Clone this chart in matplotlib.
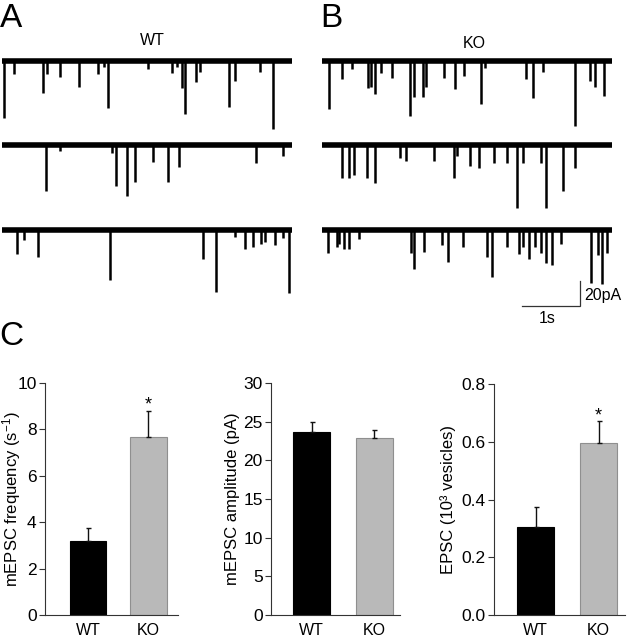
import matplotlib
matplotlib.use("Agg")
import matplotlib.pyplot as plt
import numpy as np

plt.rcParams['font.family'] = ['Liberation Sans', 'DejaVu Sans']
plt.rcParams['mathtext.fontset'] = 'custom'
plt.rcParams['mathtext.rm'] = 'Liberation Sans'
plt.rcParams['mathtext.it'] = 'Liberation Sans:italic'

# ---------------- trace data: event times (s) and amplitudes (pA) ----------------
trace_dur = 5.0
wt1_t = [0.03, 0.21, 0.71, 0.77, 1.00, 1.32, 1.65, 1.75, 1.83, 2.51, 2.93, 3.01, 3.10, 3.16, 3.34, 3.41, 3.91, 4.02, 4.45, 4.67]
wt1_a = [46, 11, 26, 11, 13, 21, 11, 5, 38, 7, 10, 5, 22, 43, 17, 9, 37, 16, 9, 55]
wt2_t = [0.76, 1.00, 1.89, 1.96, 2.15, 2.29, 2.60, 2.86, 3.06, 4.38, 4.85]
wt2_a = [37, 5, 7, 33, 41, 30, 14, 30, 18, 15, 9]
wt3_t = [0.26, 0.38, 0.62, 1.86, 3.47, 3.69, 4.02, 4.19, 4.32, 4.46, 4.53, 4.71, 4.85, 4.94]
wt3_a = [19, 8, 21, 40, 23, 49, 5, 15, 13, 11, 9, 12, 6, 50]

ko1_t = [0.12, 0.34, 0.51, 0.79, 0.85, 0.92, 1.01, 1.20, 1.51, 1.59, 1.74, 1.80, 2.10, 2.29, 2.44, 2.74, 2.81, 3.51, 3.63, 3.81, 4.36, 4.62, 4.71, 4.87]
ko1_a = [39, 15, 7, 22, 21, 27, 10, 14, 44, 29, 29, 21, 14, 23, 12, 35, 6, 15, 30, 9, 52, 16, 21, 28]
ko2_t = [0.34, 0.46, 0.56, 0.78, 0.91, 1.34, 1.44, 1.93, 2.28, 2.33, 2.55, 2.70, 2.97, 3.19, 3.36, 3.47, 3.78, 3.86, 4.16, 4.36]
ko2_a = [27, 27, 24, 27, 31, 11, 13, 13, 27, 9, 17, 19, 15, 15, 51, 15, 15, 51, 37, 19]
ko3_t = [0.10, 0.25, 0.30, 0.38, 0.46, 0.63, 1.53, 1.59, 1.76, 2.07, 2.17, 2.43, 2.85, 2.93, 3.19, 3.40, 3.47, 3.57, 3.68, 3.77, 3.87, 3.97, 4.12, 4.64, 4.75, 4.82, 4.92]
ko3_a = [18, 13, 11, 15, 15, 7, 18, 31, 17, 12, 25, 13, 21, 37, 13, 19, 13, 23, 13, 18, 26, 28, 11, 42, 20, 43, 18]

# ---------------- bar data ----------------
groups = ['WT', 'KO']
bar_colors = ['#000000', '#b9b9b9']
bar_edges = ['#000000', '#8f8f8f']
freq_mean = [3.17, 7.67]
freq_err = [0.57, 1.14]
amp_mean = [23.68, 22.94]
amp_err = [1.29, 1.04]
epsc_mean = [0.305, 0.594]
epsc_err = [0.069, 0.078]
freq_sig = [False, True]
amp_sig = [False, False]
epsc_sig = [False, True]

W, H = 636, 640
fig = plt.figure(figsize=(W / 100, H / 100), dpi=100)


def px_axes(l, t, w, h):
    return fig.add_axes([l / W, 1 - (t + h) / H, w / W, h / H])


PX_PER_S = 58.0
PA_PER_PX = 0.8
TOP_PX = 50
AX_H = 280
AX_W = 300
row_base_px = [60.5, 144.5, 230.3]
ytop = (row_base_px[0] - TOP_PX) * PA_PER_PX
offsets = [-(b - row_base_px[0]) * PA_PER_PX for b in row_base_px]


def trace_axes(left):
    ax = px_axes(left, TOP_PX, AX_W, AX_H)
    ax.set_xlim(0, AX_W / PX_PER_S)
    ax.set_ylim(ytop - AX_H * PA_PER_PX, ytop)
    ax.axis('off')
    return ax


def draw_trace(ax, times, amps, base):
    ax.hlines(base, 0, trace_dur, color='black', lw=4.0)
    ax.vlines(times, base, base - np.asarray(amps), color='black', lw=1.8)


axA = trace_axes(2)
for (t, a), off in zip([(wt1_t, wt1_a), (wt2_t, wt2_a), (wt3_t, wt3_a)], offsets):
    draw_trace(axA, t, a, off)
axB = trace_axes(322)
for (t, a), off in zip([(ko1_t, ko1_a), (ko2_t, ko2_a), (ko3_t, ko3_a)], offsets):
    draw_trace(axB, t, a, off)

# scale bar (1 s, 20 pA)
sb_x = (580 - 322) / PX_PER_S
sb_y = ytop - (306 - TOP_PX) * PA_PER_PX
axB.plot([sb_x - 1.0, sb_x, sb_x], [sb_y, sb_y, sb_y + 20], color='#333333', lw=0.9,
         solid_joinstyle='miter')
axB.text(sb_x + 0.08, sb_y + 4.8, '20pA', fontsize=11.5, va='baseline', ha='left')
axB.text(sb_x - 0.57, sb_y - 13.6, '1s', fontsize=11.5, va='baseline', ha='center')

fig.text(152 / W, 1 - 45 / H, 'WT', fontsize=11.5, ha='center', va='baseline')
fig.text(474 / W, 1 - 48 / H, 'KO', fontsize=11.5, ha='center', va='baseline')

fig.text(0 / W, 1 - 27 / H, 'A', fontsize=24, va='baseline', ha='left')
fig.text(320 / W, 1 - 27 / H, 'B', fontsize=24, va='baseline', ha='left')
fig.text(-1 / W, 1 - 345 / H, 'C', fontsize=24, va='baseline', ha='left')


def bar_chart(rect, means, errs, sig, ylim, ticks, ticklabels, ylabel, xlim, label_x):
    ax = px_axes(*rect)
    x = np.arange(len(groups))
    ax.bar(x, means, width=0.6, color=bar_colors, edgecolor=bar_edges, linewidth=0.8, zorder=2)
    ax.errorbar(x, means, yerr=[np.zeros(len(errs)), errs], fmt='none', ecolor='#111111',
                elinewidth=1.0, capsize=1.8, capthick=1.0, zorder=3)
    for xi, m, e, s in zip(x, means, errs, sig):
        if s:
            ax.annotate('*', (xi, m + e), xytext=(0, 0.5), textcoords='offset points',
                        ha='center', va='baseline', fontsize=13)
    ax.set_ylim(*ylim)
    ax.set_xlim(*xlim)
    ax.set_yticks(ticks)
    ax.set_yticklabels(ticklabels, fontsize=12.5)
    ax.set_xticks(x)
    ax.set_xticklabels(groups, fontsize=11.5)
    ax.tick_params(axis='x', length=0, pad=5.5)
    ax.tick_params(axis='y', length=4, width=0.8, pad=2, color='#333333')
    for sp in ['top', 'right']:
        ax.spines[sp].set_visible(False)
    for sp in ['left', 'bottom']:
        ax.spines[sp].set_linewidth(0.8)
        ax.spines[sp].set_color('#333333')
    ax.set_ylabel(ylabel, fontsize=12, va='center')
    ax.yaxis.set_label_coords(label_x, 0.5)
    return ax


bar_chart((45, 383, 133, 232), freq_mean, freq_err, freq_sig, (0, 10),
          [0, 2, 4, 6, 8, 10], ['0', '2', '4', '6', '8', '10'],
          r'mEPSC frequency (s$^{\mathregular{-1}}$)', (-0.71, 1.49), -0.248)
bar_chart((271, 383, 129, 232), amp_mean, amp_err, amp_sig, (0, 30),
          [0, 5, 10, 15, 20, 25, 30], ['0', '5', '10', '15', '20', '25', '30'],
          'mEPSC amplitude (pA)', (-0.65, 1.41), -0.302)
bar_chart((494, 384, 131, 231), epsc_mean, epsc_err, epsc_sig, (0, 0.8),
          [0, 0.2, 0.4, 0.6, 0.8], ['0.0', '0.2', '0.4', '0.6', '0.8'],
          'EPSC (10\u00b3 vesicles)', (-0.66, 1.42), -0.351)

fig.savefig('out.png', dpi=100)
